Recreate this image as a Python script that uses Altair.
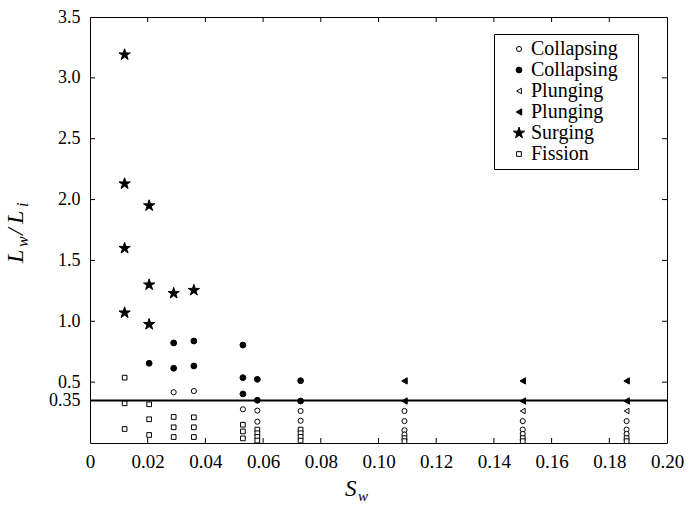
import altair as alt
import pandas as pd

# ---- data ----
surg_x = [0.012, 0.012, 0.012, 0.012, 0.0205, 0.0205, 0.0205, 0.029, 0.036]
surg_y = [3.19, 2.13, 1.60, 1.07, 1.95, 1.30, 0.975, 1.23, 1.255]

colf_x = [0.0205, 0.029, 0.029, 0.036, 0.036, 0.053, 0.053, 0.053, 0.058, 0.058, 0.073, 0.073]
colf_y = [0.655, 0.822, 0.614, 0.838, 0.633, 0.805, 0.537, 0.403, 0.523, 0.351, 0.512, 0.345]

colo_x = [0.029, 0.036, 0.053, 0.058, 0.058, 0.073, 0.073, 0.109, 0.109, 0.109, 0.109,
          0.150, 0.150, 0.150, 0.186, 0.186, 0.186]
colo_y = [0.417, 0.427, 0.277, 0.266, 0.175, 0.263, 0.183, 0.263, 0.18, 0.105, 0.07,
          0.18, 0.11, 0.075, 0.18, 0.11, 0.075]

plf_x = [0.109, 0.109, 0.150, 0.150, 0.186, 0.186]
plf_y = [0.51, 0.345, 0.51, 0.345, 0.51, 0.345]

plo_x = [0.150, 0.186]
plo_y = [0.263, 0.263]

fis_x = [0.012, 0.012, 0.012, 0.0205, 0.0205, 0.0205, 0.029, 0.029, 0.029,
         0.036, 0.036, 0.036, 0.053, 0.053, 0.053, 0.058, 0.058, 0.058, 0.058,
         0.073, 0.073, 0.073, 0.073, 0.109, 0.109, 0.150, 0.150, 0.186, 0.186]
fis_y = [0.537, 0.326, 0.115, 0.318, 0.195, 0.066, 0.214, 0.129, 0.049,
         0.211, 0.129, 0.049, 0.150, 0.095, 0.038, 0.11, 0.08, 0.05, 0.02,
         0.11, 0.08, 0.05, 0.02, 0.04, 0.015, 0.04, 0.015, 0.04, 0.015]

threshold = [0.35]
x_ticks = [0.0, 0.02, 0.04, 0.06, 0.08, 0.10, 0.12, 0.14, 0.16, 0.18, 0.20]
y_ticks = [0.35, 0.5, 1.0, 1.5, 2.0, 2.5, 3.0, 3.5]
x_minor = [0.02, 0.04, 0.06, 0.08, 0.10, 0.12, 0.14, 0.16, 0.18]
y_minor = [0.5, 1.0, 1.5, 2.0, 2.5, 3.0]

cats = ["1 Collapsing", "2 Collapsing", "3 Plunging", "4 Plunging", "5 Surging", "6 Fission"]
series = [(cats[0], colo_x, colo_y), (cats[1], colf_x, colf_y), (cats[2], plo_x, plo_y),
          (cats[3], plf_x, plf_y), (cats[4], surg_x, surg_y), (cats[5], fis_x, fis_y)]
rows = []
for c, xs, ys in series:
    for a, b in zip(xs, ys):
        rows.append({"cat": c, "x": a, "y": b})
df = pd.DataFrame(rows)

STAR = ("M0,-1L0.2245,-0.309L0.951,-0.309L0.363,0.118L0.588,0.809L0,0.382"
        "L-0.588,0.809L-0.363,0.118L-0.951,-0.309L-0.2245,-0.309Z")

W, H = 577, 426
FONT = "Liberation Serif"

xscale = alt.Scale(domain=[0, 0.2], nice=False, zero=False)
yscale = alt.Scale(domain=[0, 3.5], nice=False, zero=False)

xaxis = alt.Axis(values=x_ticks, grid=False, domain=False, ticks=False, tickSize=0,
                 labelFont=FONT, labelFontSize=19, labelColor="black", labelPadding=9,
                 labelOverlap=False, labelFlush=False, title=None,
                 labelExpr="datum.value == 0 ? '0\u00a0\u00a0\u00a0\u00a0\u00a0' : format(datum.value, '.2f')")
yaxis = alt.Axis(values=y_ticks, grid=False, domain=False, ticks=False, tickSize=0,
                 labelFont=FONT, labelFontSize=18, labelColor="black", labelPadding=10,
                 labelOverlap=False, labelFlush=False, title=None,
                 labelExpr="datum.value == 0.35 ? '0.35' : format(datum.value, '.1f')")

legend = alt.Legend(title=None, orient="none", legendX=404, legendY=17,
                    strokeColor="black", fillColor="white", padding=5, cornerRadius=0,
                    labelFont=FONT, labelFontSize=20, labelColor="black",
                    symbolOffset=10, rowPadding=1, labelOffset=2,
                    symbolStrokeColor="black", symbolStrokeWidth=1,
                    labelExpr="substring(datum.label, 2) + '\u2800'")

points = alt.Chart(df).mark_point(filled=False, color="black", stroke="black",
                                  strokeWidth=1, opacity=1).encode(
    x=alt.X("x:Q", scale=xscale, axis=xaxis),
    y=alt.Y("y:Q", scale=yscale, axis=yaxis),
    shape=alt.Shape("cat:N", scale=alt.Scale(domain=cats, range=[
        "circle", "circle", "triangle-left", "triangle-left", STAR, "square"]), legend=legend),
    fill=alt.Fill("cat:N", scale=alt.Scale(domain=cats, range=[
        "white", "black", "white", "black", "black", "white"]), legend=legend),
    stroke=alt.Stroke("cat:N", scale=alt.Scale(domain=cats, range=["black"] * 6), legend=legend),
    size=alt.Size("cat:N", scale=alt.Scale(type="ordinal", domain=cats, range=[
        26, 34, 30, 40, 140, 22]), legend=legend),
)

line = alt.Chart(pd.DataFrame({"t": threshold})).mark_rule(color="black", strokeWidth=2).encode(
    y=alt.Y("t:Q", scale=yscale, axis=yaxis),
)

xt = pd.DataFrame({"v": x_minor})
yt = pd.DataFrame({"v": y_minor})
tick_bottom = alt.Chart(xt).mark_rule(color="black", strokeWidth=1).encode(
    x=alt.X("v:Q", scale=xscale, axis=xaxis), y=alt.value(H - 5), y2=alt.value(H))
tick_top = alt.Chart(xt).mark_rule(color="black", strokeWidth=1).encode(
    x=alt.X("v:Q", scale=xscale, axis=xaxis), y=alt.value(0), y2=alt.value(5))
tick_left = alt.Chart(yt).mark_rule(color="black", strokeWidth=1).encode(
    y=alt.Y("v:Q", scale=yscale, axis=yaxis), x=alt.value(0), x2=alt.value(5))
tick_right = alt.Chart(yt).mark_rule(color="black", strokeWidth=1).encode(
    y=alt.Y("v:Q", scale=yscale, axis=yaxis), x=alt.value(W - 5), x2=alt.value(W))

one = pd.DataFrame({"a": [0]})


def txt(s, x, y, size, angle=0):
    return alt.Chart(one).mark_text(font=FONT, fontStyle="italic", fontSize=size, color="black",
                                    align="left", baseline="alphabetic", angle=angle).encode(
        x=alt.value(x), y=alt.value(y), text=alt.value(s))


titles = [
    txt("L", -67, 246, 24, 270),
    txt("w", -62, 230, 16, 270),
    txt("/", -67, 218, 24, 270),
    txt("L", -67, 207, 24, 270),
    txt("i", -62, 190, 16, 270),
    txt("S", 255, 479, 23),
    txt("w", 268, 484, 15),
]

chart = alt.layer(points, line, tick_bottom, tick_top, tick_left, tick_right, *titles).properties(
    width=W, height=H, autosize="none",
    padding={"left": 90, "top": 17, "right": 26, "bottom": 65},
).configure_view(stroke="black", strokeWidth=1)

chart.save("out.html", embed_options={"renderer": "svg", "actions": False})
